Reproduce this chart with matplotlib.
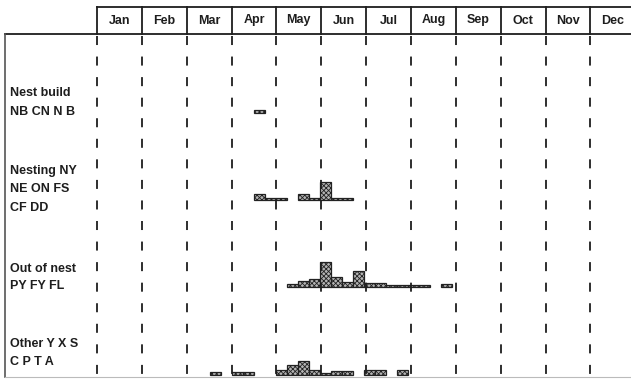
import matplotlib.pyplot as plt

# month columns of the table
months = ["Jan", "Feb", "Mar", "Apr", "May", "Jun",
          "Jul", "Aug", "Sep", "Oct", "Nov", "Dec"]

# row labels (one entry per printed line)
nest_build_label = ["Nest build", "NB CN N B"]
nesting_label = ["Nesting NY", "NE ON FS", "CF DD"]
out_of_nest_label = ["Out of nest", "PY FY FL"]
other_label = ["Other Y X S", "C P T A"]

# weekly bins (week index) and bar heights for each row
nest_build_weeks = [14]
nest_build_counts = [3.5]

nesting_weeks = [14, 15, 16, 18, 19, 20, 21, 22]
nesting_counts = [6.5, 2.5, 2.5, 6.5, 2.5, 18, 2.5, 2.5]

out_of_nest_weeks = [17, 18, 19, 20, 21, 22, 23, 24, 25, 26, 27, 28, 29, 31]
out_of_nest_counts = [3, 6.5, 8, 25, 10, 5, 16, 4.5, 4.5, 2.5, 2.5, 2.5, 2.5, 3]

other_weeks = [10, 12, 13, 16, 17, 18, 19, 20, 21, 22, 24, 25, 27]
other_counts = [3, 3, 3, 5, 10, 14, 5, 2, 4.5, 4.5, 5, 5, 5]

W, H = 631, 379
MONTH_PX = 44.85
X0_PX = 97
WEEK = 11 / MONTH_PX      # width of one bin in months
WEEK_OFF = 0.066          # bins start slightly after Jan 1


def px_x(p):
    return (p - X0_PX) / MONTH_PX


def px_y(p):
    return H - p


def week_x(weeks):
    return [WEEK_OFF + w * WEEK for w in weeks]


def main():
    plt.rcParams["font.family"] = ["Liberation Sans", "DejaVu Sans"]
    plt.rcParams["lines.scale_dashes"] = False
    plt.rcParams["hatch.linewidth"] = 0.6
    ink = "#1e1e1e"

    fig = plt.figure(figsize=(W / 100, H / 100), dpi=100)
    ax = fig.add_axes([0, 0, 1, 1])
    ax.set_xlim(px_x(0), px_x(W))
    ax.set_ylim(0, H)
    ax.axis("off")

    # header box
    ax.plot([0, px_x(W)], [px_y(7), px_y(7)], color=ink, lw=1.3)
    ax.plot([px_x(5), px_x(W)], [px_y(34), px_y(34)], color=ink, lw=1.3)
    for i, m in enumerate(months):
        ax.plot([i, i], [px_y(7), px_y(34)], color=ink, lw=1.3)
        ax.text(i + 0.5, px_y(20.5), m, ha="center", va="center",
                fontsize=9, fontweight="bold", color=ink)

    # outer frame of the body
    ax.plot([px_x(5), px_x(5)], [px_y(34), px_y(377)], color="#555555", lw=1.2)
    ax.plot([px_x(5), px_x(W)], [px_y(377), px_y(377)], color="#bbbbbb", lw=0.8)

    # dashed month separators
    for i in range(12):
        ax.plot([i, i], [px_y(36), px_y(379)], color=ink, lw=1.3,
                linestyle=(0, (6.5, 8.3)))

    rows = [
        (nest_build_label, [93, 112], nest_build_weeks, nest_build_counts, 113),
        (nesting_label, [171, 189, 208], nesting_weeks, nesting_counts, 200),
        (out_of_nest_label, [269, 286], out_of_nest_weeks, out_of_nest_counts, 287),
        (other_label, [344, 362], other_weeks, other_counts, 375),
    ]
    for label, ys, weeks, counts, base in rows:
        for line, y in zip(label, ys):
            ax.text(px_x(10), px_y(y), line, ha="left", va="center",
                    fontsize=9, fontweight="bold", color=ink)
        ax.bar(week_x(weeks), counts, width=WEEK, bottom=px_y(base),
               align="edge", facecolor="#b4b4b4", edgecolor="#222222",
               linewidth=0.9, hatch="xxxxxxx")

    fig.savefig("out.png", dpi=100)


if __name__ == "__main__":
    main()
